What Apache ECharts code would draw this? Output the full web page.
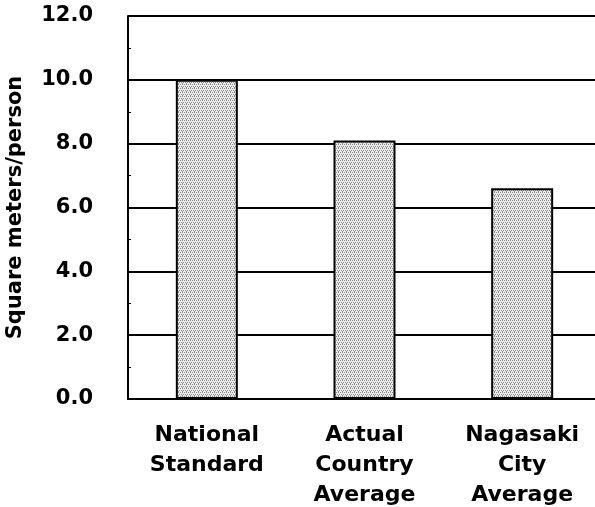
<!DOCTYPE html>
<html>
<head>
<meta charset="utf-8">
<script src="https://cdn.jsdelivr.net/npm/echarts@6/dist/echarts.min.js"></script>
<style>
  html, body { margin: 0; padding: 0; background: #fff; }
  #chart { width: 595px; height: 507px; }
</style>
</head>
<body>
<div id="chart"></div>
<script>
// Living area per person (square meters)
const categories = ['National\nStandard', 'Actual\nCountry\nAverage', 'Nagasaki\nCity\nAverage'];
const areaValues = [10.0, 8.1, 6.6];
const yTicks = { min: 0, max: 12, interval: 2 };

// Stippled grey fill: a small dotted tile repeated over the bars
function makeStipple() {
  const c = document.createElement('canvas');
  c.width = 4; c.height = 4;
  const g = c.getContext('2d');
  g.fillStyle = '#ececec';
  g.fillRect(0, 0, 4, 4);
  g.fillStyle = '#8c8c8c';
  const dots = [[0,0],[2,0],[1,2],[3,2],[2,3]];
  dots.forEach(([x, y]) => g.fillRect(x, y, 1, 1));
  return c;
}

const chart = echarts.init(document.getElementById('chart'), null, { renderer: 'canvas' });
const fontBold = { fontFamily: 'DejaVu Sans', fontWeight: 'bold', color: '#000' };

chart.setOption({
  animation: false,
  backgroundColor: '#fff',
  grid: { left: 128, top: 16, width: 473, height: 383, containLabel: false, outerBoundsMode: 'none' },
  xAxis: {
    type: 'category',
    data: categories,
    axisLine: { lineStyle: { color: '#000', width: 2 } },
    axisTick: { inside: true, length: 6, lineStyle: { color: '#000', width: 2 } },
    axisLabel: Object.assign({ fontSize: 22, lineHeight: 30, margin: 21, interval: 0 }, fontBold)
  },
  yAxis: {
    type: 'value',
    min: yTicks.min,
    max: yTicks.max,
    interval: yTicks.interval,
    name: 'Square meters/person',
    nameLocation: 'middle',
    nameGap: 102,
    nameTextStyle: Object.assign({ fontSize: 21 }, fontBold),
    axisLine: { show: true, lineStyle: { color: '#000', width: 2 } },
    axisTick: { show: false, inside: true },
    minorTick: { show: true, splitNumber: 2, length: 3, lineStyle: { color: '#000', width: 1 } },
    splitLine: { lineStyle: { color: '#000', width: 2 } },
    axisLabel: Object.assign({ fontSize: 21, margin: 35, formatter: v => v.toFixed(1) }, fontBold)
  },
  series: [{
    type: 'bar',
    data: areaValues,
    barWidth: 62,
    itemStyle: {
      color: { image: makeStipple(), repeat: 'repeat' },
      borderColor: '#000',
      borderWidth: 2
    }
  }]
});
</script>
</body>
</html>
